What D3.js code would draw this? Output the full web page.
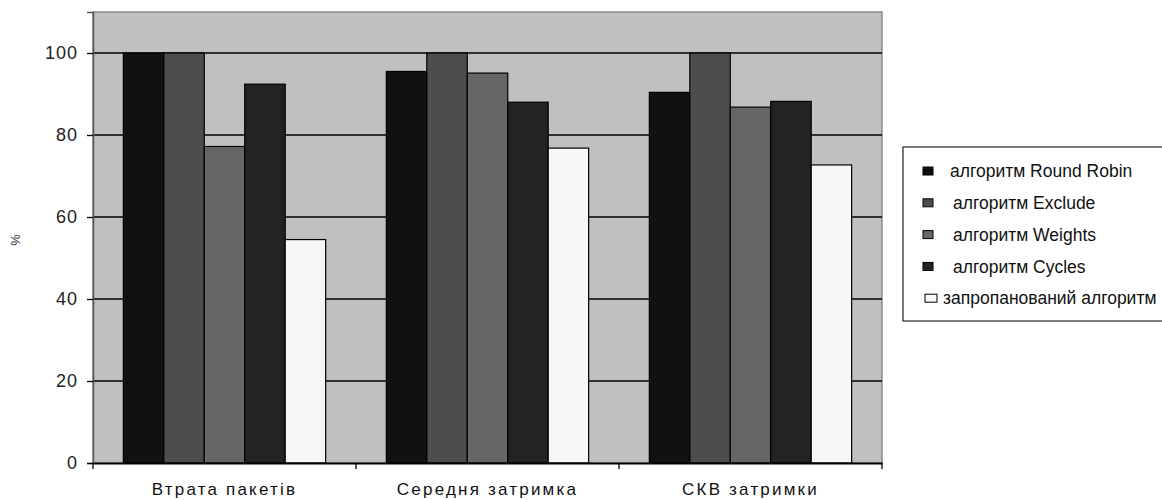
<!DOCTYPE html>
<html>
<head>
<meta charset="utf-8">
<script src="https://cdn.jsdelivr.net/npm/d3@7"></script>
<style>
  html, body { margin: 0; padding: 0; background: #ffffff; }
  svg { display: block; font-family: "Liberation Sans", Arial, sans-serif; }
</style>
</head>
<body>
<svg id="chart" width="1162" height="500"></svg>
<script>
// ---- data ----
const categories = ["Втрата пакетів", "Середня затримка", "СКВ затримки"];
const seriesNames = ["алгоритм Round Robin", "алгоритм Exclude", "алгоритм Weights", "алгоритм Cycles", "запропанований алгоритм"];
const roundRobin = [100, 95.5, 90.4];
const exclude    = [100, 100, 100];
const weights    = [77.2, 95.1, 86.8];
const cycles     = [92.4, 88.0, 88.2];
const proposed   = [54.5, 76.8, 72.7];
const yTicks = [0, 20, 40, 60, 80, 100];
const seriesColors = ["#111111", "#4d4d4d", "#666666", "#232323", "#f7f7f7"];

const seriesValues = [roundRobin, exclude, weights, cycles, proposed];

// ---- layout ----
const plot = { left: 93, top: 12, right: 882, bottom: 463 };
const svg = d3.select("#chart");

const x0 = d3.scaleBand().domain(categories).range([plot.left, plot.right]).paddingInner(0).paddingOuter(0);
const x1 = d3.scaleBand().domain(d3.range(seriesNames.length)).range([0, x0.bandwidth()]).paddingInner(0).paddingOuter(0.75);
const y = d3.scaleLinear().domain([0, 110]).range([plot.bottom, plot.top]);

// plot background
svg.append("rect")
  .attr("x", plot.left).attr("y", plot.top)
  .attr("width", plot.right - plot.left).attr("height", plot.bottom - plot.top)
  .attr("fill", "#c0c0c0").attr("stroke", "#8a8a8a").attr("stroke-width", 1.5);

// gridlines
svg.append("g").selectAll("line")
  .data(yTicks.filter(d => d > 0))
  .join("line")
  .attr("x1", plot.left).attr("x2", plot.right)
  .attr("y1", d => y(d)).attr("y2", d => y(d))
  .attr("stroke", "#000").attr("stroke-width", 1.3);

// bars
const groups = svg.append("g").selectAll("g")
  .data(categories)
  .join("g")
  .attr("transform", d => `translate(${x0(d)},0)`);

groups.selectAll("rect")
  .data((c, ci) => seriesValues.map((vals, si) => ({ si, v: vals[ci] })))
  .join("rect")
  .attr("x", d => x1(d.si))
  .attr("width", x1.bandwidth())
  .attr("y", d => y(d.v))
  .attr("height", d => y(0) - y(d.v))
  .attr("fill", d => seriesColors[d.si])
  .attr("stroke", "#000")
  .attr("stroke-width", 1.2);

// y axis
const yAxis = d3.axisLeft(y).tickValues(yTicks).tickSize(6).tickPadding(9);
const gy = svg.append("g").attr("transform", `translate(${plot.left},0)`).call(yAxis);
gy.select(".domain").attr("stroke", "#555").attr("stroke-width", 1.5);
gy.selectAll(".tick line").attr("stroke", "#000").attr("stroke-width", 1.3);
gy.selectAll(".tick text")
  .attr("font-size", 18).attr("fill", "#222")
  .attr("font-family", "'Liberation Sans', Arial, sans-serif")
  .attr("letter-spacing", "1px");

// x axis
const xAxis = d3.axisBottom(x0).tickSize(0).tickPadding(14);
const gx = svg.append("g").attr("transform", `translate(0,${plot.bottom})`).call(xAxis);
gx.select(".domain").attr("stroke", "#000").attr("stroke-width", 2);
gx.selectAll(".tick text")
  .attr("font-size", 17).attr("fill", "#111")
  .attr("font-family", "'Liberation Sans', Arial, sans-serif")
  .attr("letter-spacing", "2.2px")
  .attr("dy", "1.05em");
// category boundary ticks
const boundaries = categories.map(c => x0(c)).concat([plot.right]);
svg.append("g").selectAll("line")
  .data(boundaries)
  .join("line")
  .attr("x1", d => d).attr("x2", d => d)
  .attr("y1", plot.bottom).attr("y2", plot.bottom + 6)
  .attr("stroke", "#000").attr("stroke-width", 1.3);

// y label
svg.append("text")
  .attr("transform", "translate(20,240) rotate(-90)")
  .attr("text-anchor", "middle")
  .attr("font-size", 13)
  .attr("fill", "#333")
  .text("%");

// legend
const legend = svg.append("g");
legend.append("rect")
  .attr("x", 903).attr("y", 147)
  .attr("width", 280).attr("height", 174)
  .attr("fill", "#fff").attr("stroke", "#222").attr("stroke-width", 1.2);

const legendRows = [
  { sx: 923, tx: 950 },
  { sx: 923, tx: 953 },
  { sx: 923, tx: 953 },
  { sx: 923, tx: 953 },
  { sx: 925, tx: 943 }
];
const legendItems = legend.selectAll("g.item")
  .data(seriesNames)
  .join("g")
  .attr("class", "item")
  .attr("transform", (d, i) => `translate(0,${171 + i * 31.8})`);

legendItems.append("rect")
  .attr("x", (d, i) => legendRows[i].sx)
  .attr("y", -4)
  .attr("width", (d, i) => i === 4 ? 12 : 10)
  .attr("height", 8)
  .attr("fill", (d, i) => seriesColors[i])
  .attr("stroke", "#000").attr("stroke-width", 1);

legendItems.append("text")
  .attr("x", (d, i) => legendRows[i].tx)
  .attr("y", 0)
  .attr("dy", "0.35em")
  .attr("font-size", 17.5)
  .attr("fill", "#111")
  .text(d => d);
</script>
</body>
</html>
